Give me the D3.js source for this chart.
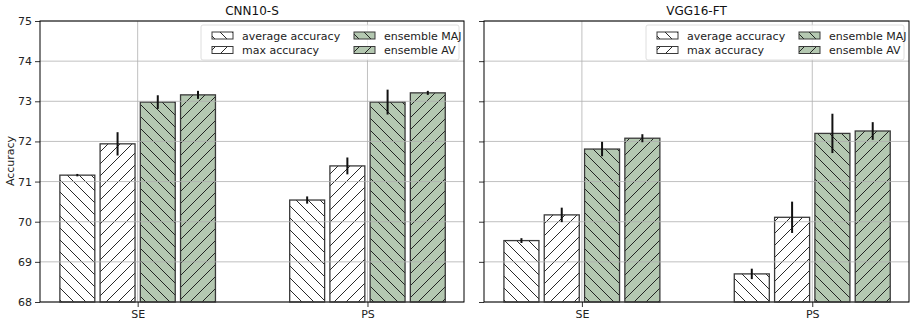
<!DOCTYPE html>
<html>
<head>
<meta charset="utf-8">
<script src="https://cdn.jsdelivr.net/npm/d3@7"></script>
<style>
  body { margin: 0; background: #fff; }
  svg { display: block; font-family: "DejaVu Sans", sans-serif; }
</style>
</head>
<body>
<div id="chart"></div>
<script>
// categories and series
const categories = ["SE", "PS"];
const seriesNames = ["average accuracy", "max accuracy", "ensemble MAJ", "ensemble AV"];
const yTicks = [68, 69, 70, 71, 72, 73, 74, 75];

// CNN10-S values (SE, PS)
const cnnAvg = [71.16, 70.54];
const cnnMax = [71.94, 71.39];
const cnnMaj = [72.98, 72.98];
const cnnAv  = [73.16, 73.21];
const cnnAvgErr = [0.03, 0.09];
const cnnMaxErr = [0.29, 0.21];
const cnnMajErr = [0.17, 0.31];
const cnnAvErr  = [0.10, 0.05];

// VGG16-FT values (SE, PS)
const vggAvg = [69.53, 68.70];
const vggMax = [70.17, 70.11];
const vggMaj = [71.81, 72.20];
const vggAv  = [72.08, 72.26];
const vggAvgErr = [0.06, 0.13];
const vggMaxErr = [0.18, 0.39];
const vggMajErr = [0.18, 0.49];
const vggAvErr  = [0.10, 0.22];

const width = 911, height = 322;
const green = "#b4c8b1";
const hatchSize = 12;

const svg = d3.select("#chart").append("svg")
    .attr("width", width)
    .attr("height", height);

// hatch patterns: "\" and "/" on white or green
const defs = svg.append("defs");
function makeHatch(id, dir, fill) {
    const p = defs.append("pattern")
        .attr("id", id)
        .attr("patternUnits", "userSpaceOnUse")
        .attr("width", hatchSize)
        .attr("height", hatchSize);
    p.append("rect").attr("width", hatchSize).attr("height", hatchSize).attr("fill", fill);
    const s = hatchSize;
    const d = dir === "back"
        ? `M0,0 L${s},${s} M${-s/2},${s/2} L${s/2},${s*1.5} M${s/2},${-s/2} L${s*1.5},${s/2}`
        : `M0,${s} L${s},0 M${-s/2},${s/2} L${s/2},${-s/2} M${s/2},${s*1.5} L${s*1.5},${s/2}`;
    p.append("path").attr("d", d).attr("stroke", "#111").attr("stroke-width", 0.9);
}
makeHatch("h-avg", "back", "#fff");
makeHatch("h-max", "fwd", "#fff");
makeHatch("h-maj", "back", green);
makeHatch("h-av", "fwd", green);
const fills = ["url(#h-avg)", "url(#h-max)", "url(#h-maj)", "url(#h-av)"];

const offsets = [-0.2625, -0.0875, 0.0875, 0.2625];
const barW = 0.152;

function drawPanel(left, right, title, values, errors, showYLabels) {
    const x = d3.scaleLinear().domain([-0.425, 1.42]).range([left, right]);
    const y = d3.scaleLinear().domain([68, 75]).range([302, 21]);
    const g = svg.append("g");

    // bars
    values.forEach(function(vals, si) {
        g.selectAll(null)
            .data(vals)
            .enter().append("rect")
            .attr("x", function(d, i) { return x(i + offsets[si] - barW / 2); })
            .attr("width", x(barW) - x(0))
            .attr("y", function(d) { return y(d); })
            .attr("height", function(d) { return y(68) - y(d); })
            .attr("fill", fills[si])
            .attr("stroke", "#3a3a3a")
            .attr("stroke-width", 1.3);
    });

    // grid on top of bars
    g.selectAll(".hgrid")
        .data(yTicks)
        .enter().append("line")
        .attr("x1", left).attr("x2", right)
        .attr("y1", function(d) { return y(d); })
        .attr("y2", function(d) { return y(d); })
        .attr("stroke", "#b0b0b0").attr("stroke-width", 0.8);
    g.selectAll(".vgrid")
        .data(categories)
        .enter().append("line")
        .attr("x1", function(d, i) { return x(i); })
        .attr("x2", function(d, i) { return x(i); })
        .attr("y1", y(75)).attr("y2", y(68))
        .attr("stroke", "#b0b0b0").attr("stroke-width", 0.8);

    // error bars
    values.forEach(function(vals, si) {
        g.selectAll(null)
            .data(vals)
            .enter().append("line")
            .attr("x1", function(d, i) { return x(i + offsets[si]); })
            .attr("x2", function(d, i) { return x(i + offsets[si]); })
            .attr("y1", function(d, i) { return y(d - errors[si][i]); })
            .attr("y2", function(d, i) { return y(d + errors[si][i]); })
            .attr("stroke", "#111").attr("stroke-width", 2);
    });

    // axes
    const yAxis = d3.axisLeft(y).tickValues(yTicks).tickSize(5).tickPadding(3)
        .tickFormat(showYLabels ? d3.format("d") : "");
    const ya = g.append("g")
        .attr("transform", `translate(${left},0)`)
        .call(yAxis);
    const xAxis = d3.axisBottom(x).tickValues([0, 1])
        .tickFormat(function(d) { return categories[d]; })
        .tickSize(5).tickPadding(3);
    const xa = g.append("g")
        .attr("transform", `translate(0,${y(68)})`)
        .call(xAxis);
    [ya, xa].forEach(function(a) {
        a.select(".domain").remove();
        a.selectAll("text").attr("font-size", 11).attr("fill", "#222")
            .attr("font-family", "DejaVu Sans, sans-serif");
        a.selectAll("line").attr("stroke", "#000").attr("stroke-width", 0.8);
    });

    // frame
    g.append("rect")
        .attr("x", left).attr("y", y(75))
        .attr("width", right - left).attr("height", y(68) - y(75))
        .attr("fill", "none").attr("stroke", "#000").attr("stroke-width", 1);

    // title
    g.append("text")
        .attr("x", (left + right) / 2).attr("y", 15)
        .attr("text-anchor", "middle")
        .attr("font-size", 12).attr("fill", "#111")
        .text(title);

    // legend
    const lw = 258, lh = 35;
    const lx = right - 5 - lw, ly = 25;
    const lg = g.append("g").attr("transform", `translate(${lx},${ly})`);
    lg.append("rect")
        .attr("width", lw).attr("height", lh).attr("rx", 2)
        .attr("fill", "rgba(255,255,255,0.8)")
        .attr("stroke", "#d5d5d5").attr("stroke-width", 0.8);
    seriesNames.forEach(function(name, si) {
        const col = Math.floor(si / 2), row = si % 2;
        const px = 11 + col * 142, py = 7 + row * 14.5;
        lg.append("rect")
            .attr("x", px).attr("y", py)
            .attr("width", 21).attr("height", 7)
            .attr("fill", fills[si])
            .attr("stroke", "#3a3a3a").attr("stroke-width", 1);
        lg.append("text")
            .attr("x", px + 30).attr("y", py + 7.5)
            .attr("font-size", 11).attr("fill", "#222")
            .text(name);
    });
}

drawPanel(40, 464, "CNN10-S",
    [cnnAvg, cnnMax, cnnMaj, cnnAv],
    [cnnAvgErr, cnnMaxErr, cnnMajErr, cnnAvErr], true);
drawPanel(484, 909, "VGG16-FT",
    [vggAvg, vggMax, vggMaj, vggAv],
    [vggAvgErr, vggMaxErr, vggMajErr, vggAvErr], false);

// y label
svg.append("text")
    .attr("transform", "translate(14,161) rotate(-90)")
    .attr("text-anchor", "middle")
    .attr("font-size", 11).attr("fill", "#222")
    .text("Accuracy");
</script>
</body>
</html>
